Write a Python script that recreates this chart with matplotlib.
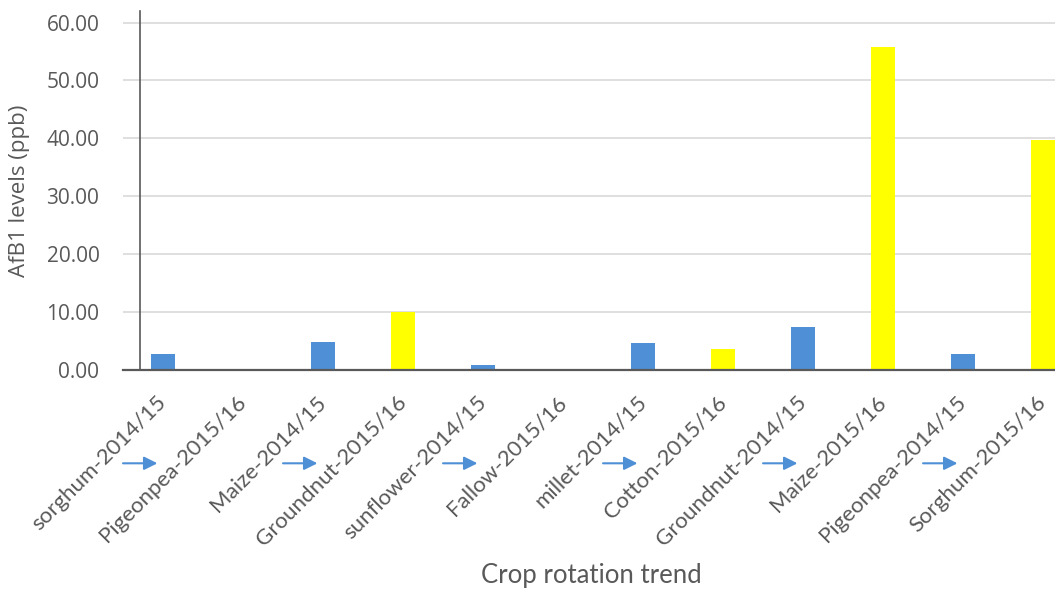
import numpy as np
import matplotlib.pyplot as plt
from matplotlib.transforms import blended_transform_factory

crops = ['sorghum-2014/15', 'Pigeonpea-2015/16', 'Maize-2014/15', 'Groundnut-2015/16',
         'sunflower-2014/15', 'Fallow-2015/16', 'millet-2014/15', 'Cotton-2015/16',
         'Groundnut-2014/15', 'Maize-2015/16', 'Pigeonpea-2014/15', 'Sorghum-2015/16']
afb1 = [2.8, 0.0, 4.9, 10.0, 0.8, 0.0, 4.6, 3.7, 7.5, 55.8, 2.8, 39.7]
seasons = ['2014/15', '2015/16'] * 6
yticks = [0, 10, 20, 30, 40, 50, 60]

season_colors = {'2014/15': '#4f8fd6', '2015/16': '#ffff00'}
text_grey = '#595959'

fig = plt.figure(figsize=(10.55, 5.91), dpi=100)
ax = fig.add_axes([0.1166, 0.374, 0.91, 0.6074])

x = np.arange(len(crops))
ax.bar(x, afb1, width=0.3, color=[season_colors[s] for s in seasons], zorder=3)

ax.set_xlim(-0.5, 11.5)
ax.set_ylim(0, 62)
ax.set_yticks(yticks)
ax.set_yticklabels([f'{v:.2f}' for v in yticks], family='Open Sans', fontsize=15,
                   color=text_grey)
ax.tick_params(axis='y', length=0, pad=17)
ax.grid(axis='y', color='#d9d9d9', lw=1.2, zorder=0)

ax.set_xticks(x)
ax.set_xticklabels(crops, rotation=45, ha='right', va='center', rotation_mode='anchor',
                   family='Lato', fontsize=16, color=text_grey)
ax.tick_params(axis='x', length=0, pad=21)

for side in ['top', 'right', 'left']:
    ax.spines[side].set_visible(False)
ax.spines['bottom'].set_color(text_grey)
ax.spines['bottom'].set_linewidth(1.6)
ax.spines['bottom'].set_zorder(4)

# vertical axis line sits a little inside the plot edge
ax.plot([-0.29, -0.29], [0, 62], color=text_grey, lw=1.2, clip_on=False, zorder=4)

# rotation arrows between each pair of seasons
trans = blended_transform_factory(ax.transData, ax.transAxes)
for i in range(0, len(crops), 2):
    ax.annotate('', xy=(i - 0.07, -0.26), xytext=(i - 0.5, -0.26),
                xycoords=trans, textcoords=trans,
                arrowprops=dict(arrowstyle='-|>', color='#4f8fd6', lw=1.5,
                                mutation_scale=20, shrinkA=0, shrinkB=0))

ax.set_ylabel('AfB1 levels (ppb)', family='Open Sans', fontsize=16, color=text_grey)
ax.yaxis.set_label_coords(-0.097, 0.5)
fig.text(0.561, 0.027, 'Crop rotation trend', family='Lato', fontsize=18.5,
         color=text_grey, ha='center', va='center')

fig.savefig('out.png', dpi=100)
